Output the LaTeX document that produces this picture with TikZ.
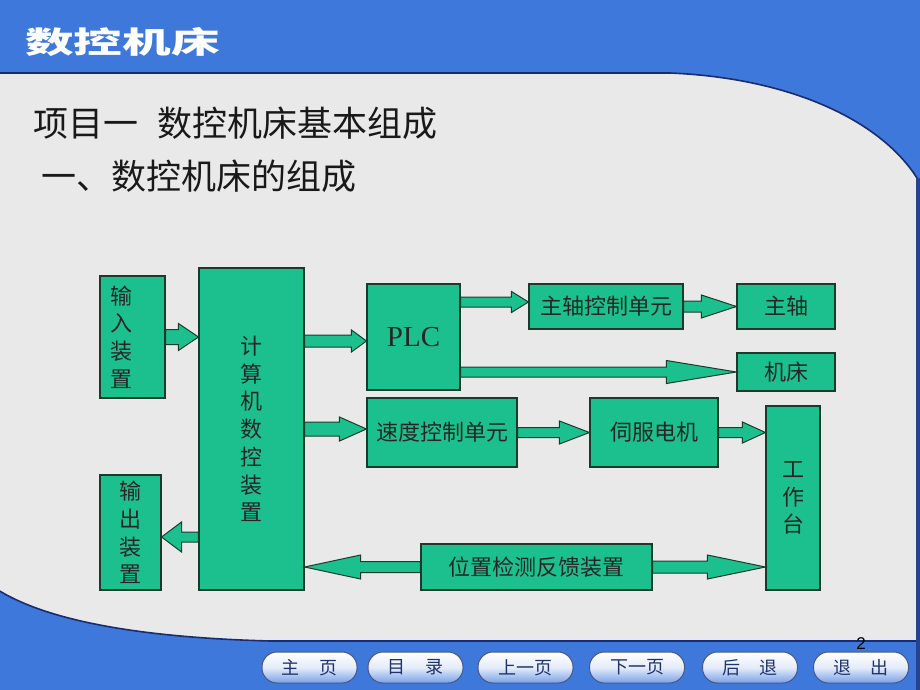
\documentclass[tikz,border=0pt]{standalone}
\usepackage{fontspec}
\setmainfont{Liberation Serif}
\setsansfont{Liberation Sans}
\newfontfamily\cjk{Noto Sans CJK SC}
\usetikzlibrary{calc}
\definecolor{bgblue}{RGB}{62,120,218}
\definecolor{edgeblue}{RGB}{25,45,110}
\definecolor{paper}{RGB}{233,233,233}
\definecolor{boxgreen}{RGB}{27,192,142}
\definecolor{boxline}{RGB}{28,58,44}
\definecolor{btnblue}{RGB}{120,160,230}
\definecolor{btntext}{RGB}{30,50,110}
\tikzset{
  blk/.style={draw=boxline, fill=boxgreen, line width=1.1pt, inner sep=0pt,
    font=\cjk\fontsize{22}{27.7}\selectfont, text=black!85, align=center},
  arr/.style={draw=boxline, fill=boxgreen, line width=1pt, line join=miter},
  btn/.style={draw=edgeblue!80, line width=1pt, rounded corners=15pt,
    top color=white, bottom color=btnblue, middle color=white!80!btnblue,
    minimum width=95pt, minimum height=31pt, inner sep=0pt,
    font=\cjk\fontsize{18}{18}\selectfont, text=btntext},
  head/.style={anchor=west, inner sep=0pt, font=\cjk\fontsize{35}{35}\selectfont, text=black!90}
}
% block arrow: #1 start (gives y), #2 end (gives x), #3 shaft half width, #4 head half width, #5 signed head length
\newcommand\barrow[5]{%
  \path[arr] let \p1=#1, \p2=#2 in
    ({\x1},{\y1+(#3)*1pt}) -- ({\x2-(#5)*1pt},{\y1+(#3)*1pt}) -- ({\x2-(#5)*1pt},{\y1+(#4)*1pt})
    -- ({\x2},{\y1}) -- ({\x2-(#5)*1pt},{\y1-(#4)*1pt}) -- ({\x2-(#5)*1pt},{\y1-(#3)*1pt})
    -- ({\x1},{\y1-(#3)*1pt}) -- cycle;}
\begin{document}
\begin{tikzpicture}[x=1pt,y=-1pt]
\useasboundingbox (0,0) rectangle (920,690);
% background
\fill[bgblue] (0,0) rectangle (920,690);
\fill[paper, draw=edgeblue, line width=1.6pt]
  (-2,73) -- (670,73) .. controls (790,78) and (880,120) .. (917,178)
  -- (917,641) -- (270,641) .. controls (120,637) and (40,616) .. (-2,590) -- cycle;
\fill[edgeblue!70!bgblue] (916,178) rectangle (920,690);
% title
\node[anchor=west, inner sep=0pt, text=white, font=\cjk\bfseries\fontsize{30}{30}\selectfont, xscale=1.62] (title) at (25,42) {数控机床};
% headings
\node[head] (h1) at (33,123) {项目一\hspace{0.55em}数控机床基本组成};
\node[head] (h2) at (41,176) {一、数控机床的组成};
% boxes
\node[blk, minimum width=65pt, minimum height=122pt, text width=45pt, align=left] (in) at (132.5,337) {输\\入\\装\\置};
\node[blk, minimum width=61pt, minimum height=115pt] (out) at (130.5,532.5) {输\\出\\装\\置};
\node[blk, minimum width=105pt, minimum height=322pt] (cnc) at (251.5,429) {计\\算\\机\\数\\控\\装\\置};
\node[blk, minimum width=93pt, minimum height=106pt, font=\fontsize{29}{29}\selectfont] (plc) at (413.5,337) {PLC};
\node[blk, minimum width=154pt, minimum height=45pt] (spu) at (606,306.5) {主轴控制单元};
\node[blk, minimum width=98pt, minimum height=45pt] (spindle) at (786,306.5) {主轴};
\node[blk, minimum width=98pt, minimum height=38pt] (bed) at (786,372) {机床};
\node[blk, minimum width=150pt, minimum height=69pt] (spd) at (442,432.5) {速度控制单元};
\node[blk, minimum width=128pt, minimum height=69pt] (servo) at (654,432.5) {伺服电机};
\node[blk, minimum width=54pt, minimum height=184pt] (table) at (793,498) {工\\作\\台};
\node[blk, minimum width=231pt, minimum height=46pt] (fb) at (536.5,567) {位置检测反馈装置};
% arrows
\barrow{(in.east)}{(cnc.west)}{7.5}{13.5}{20}
\barrow{($(cnc.east|-plc.west)+(0,4)$)}{(plc.west)}{6}{11}{15}
\barrow{(cnc.east)}{(spd.west)}{7}{12}{27}
\barrow{($(cnc.west|-out.east)+(0,4.5)$)}{(out.east)}{5}{15}{-20}
\barrow{(fb.west)}{(cnc.east|-fb.west)}{5.5}{12}{-56}
\barrow{(fb.east)}{(table.west|-fb.east)}{6}{12}{58}
\barrow{($(plc.east|-spu.west)+(0,-4.5)$)}{(spu.west)}{5}{10.5}{17}
\barrow{(spu.east)}{(spindle.west)}{5.5}{11.5}{35}
\barrow{(plc.east|-bed.west)}{(bed.west)}{5}{11.5}{70}
\barrow{(spd.east)}{(servo.west)}{5}{11.5}{30}
\barrow{(servo.east)}{(table.west|-servo.east)}{5}{10.5}{23}
% buttons
\node[btn] (b1) at (309.5,667.5) {主\hspace{1.1em}页};
\node[btn] (b2) at (415.5,667.5) {目\hspace{1.1em}录};
\node[btn] (b3) at (525.5,667.5) {上一页};
\node[btn] (b4) at (637,667.5) {下一页};
\node[btn] (b5) at (750,667.5) {后\hspace{1.1em}退};
\node[btn] (b6) at (861,667.5) {退\hspace{1.1em}出};
\node[inner sep=0pt, font=\sffamily\fontsize{17}{17}\selectfont] (pg) at (861,644) {2};
\end{tikzpicture}
\end{document}
